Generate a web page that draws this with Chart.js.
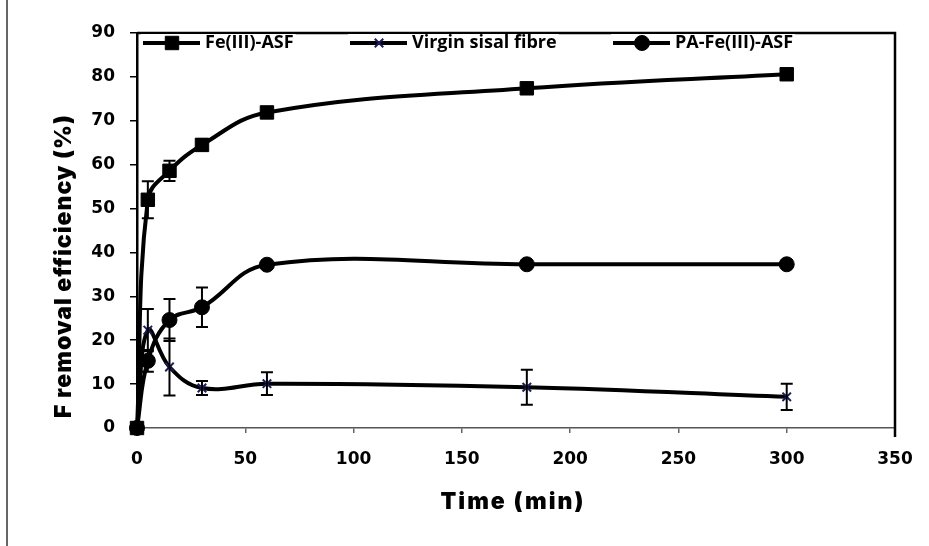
<!DOCTYPE html>
<html>
<head>
<meta charset="utf-8">
<script src="https://cdn.jsdelivr.net/npm/chart.js@4"></script>
<style>
  body { margin: 0; background: #fff; }
  #wrap { width: 929px; height: 546px; }
</style>
</head>
<body>
<div id="wrap"><canvas id="myChart" width="929" height="546"></canvas></div>
<script>
// data
const times = [0, 5, 15, 30, 60, 180, 300];
const feAsf = [0, 52, 58.6, 64.5, 71.9, 77.4, 80.6];
const feAsfErr = [0, 4.2, 2.3, 1.3, 1.2, 1, 1];
const virgin = [0, 22.3, 13.9, 9.1, 10.1, 9.3, 7.1];
const virginErr = [0, 4.8, 6.5, 1.6, 2.6, 4, 3];
const paFeAsf = [0, 15.3, 24.6, 27.5, 37.2, 37.3, 37.3];
const paFeAsfErr = [0, 2.5, 4.8, 4.5, 0.8, 0.8, 0.8];
const xTicks = [0, 50, 100, 150, 200, 250, 300, 350];
const yTicks = [0, 10, 20, 30, 40, 50, 60, 70, 80, 90];
const seriesNames = ["Fe(III)-ASF", "Virgin sisal fibre", "PA-Fe(III)-ASF"];
const xTitle = "Time (min)";
const yTitle = "F removal efficiency (%)";

const toPts = (arr) => times.map((t, i) => ({ x: t, y: arr[i] }));

// error bars, legend, frame and axis titles
const extras = {
  id: "extras",
  afterDatasetsDraw(chart) {
    const { ctx, chartArea: a, scales: { x, y } } = chart;
    ctx.save();
    // error bars
    ctx.strokeStyle = "#000";
    ctx.lineWidth = 2;
    chart.data.datasets.forEach((ds) => {
      ds.errors.forEach((e, i) => {
        if (!e) return;
        const px = x.getPixelForValue(times[i]);
        const top = y.getPixelForValue(ds.data[i].y + e);
        const bot = y.getPixelForValue(ds.data[i].y - e);
        ctx.beginPath();
        ctx.moveTo(px, top); ctx.lineTo(px, bot);
        ctx.moveTo(px - 6, top); ctx.lineTo(px + 6, top);
        ctx.moveTo(px - 6, bot); ctx.lineTo(px + 6, bot);
        ctx.stroke();
      });
    });
    // top and right frame
    ctx.lineWidth = 2.5;
    ctx.beginPath();
    ctx.moveTo(a.left, a.top);
    ctx.lineTo(a.right, a.top);
    ctx.lineTo(a.right, a.bottom + 9);
    ctx.stroke();
    // scan edge on the left
    ctx.lineWidth = 1.5;
    ctx.strokeStyle = "#333";
    ctx.beginPath();
    ctx.moveTo(7, 0); ctx.lineTo(7, 546);
    ctx.stroke();

    // legend
    const starts = [143, 350, 613];
    const ly = a.top + 10;
    ctx.font = 'bold 18px "Open Sans"';
    ctx.textBaseline = "middle";
    chart.data.datasets.forEach((ds, i) => {
      const x0 = starts[i];
      ctx.fillStyle = "#fff";
      ctx.fillRect(x0 - 2, ly - 9, 60 + ctx.measureText(ds.label).width + 6, 18);
      ctx.strokeStyle = "#000";
      ctx.lineWidth = 4;
      ctx.beginPath();
      ctx.moveTo(x0, ly); ctx.lineTo(x0 + 57, ly);
      ctx.stroke();
      ctx.fillStyle = ds.backgroundColor;
      ctx.strokeStyle = ds.pointBorderColor || "#000";
      ctx.lineWidth = ds.pointBorderWidth;
      Chart.helpers.drawPoint(ctx, {
        pointStyle: ds.pointStyle,
        radius: ds.pointRadius,
        borderWidth: ds.pointBorderWidth
      }, x0 + 29, ly);
      ctx.fillStyle = "#000";
      ctx.fillText(ds.label, x0 + 62, ly);
    });

    // axis titles (heavy face)
    ctx.fillStyle = "#000";
    ctx.textAlign = "center";
    ctx.textBaseline = "middle";
    ctx.font = '900 23px "Inter"';
    ctx.letterSpacing = "2px";
    ctx.fillText(xTitle, (a.left + a.right) / 2 - 3, 502);
    ctx.letterSpacing = "1px";
    ctx.translate(64, 266);
    ctx.rotate(-Math.PI / 2);
    ctx.fillText(yTitle, 0, 0);
    ctx.restore();
  }
};

const ctx = document.getElementById("myChart").getContext("2d");

window.myChart = new Chart(ctx, {
  type: "line",
  data: {
    datasets: [
      {
        label: seriesNames[0],
        data: toPts(feAsf),
        errors: feAsfErr,
        borderColor: "#000",
        backgroundColor: "#000",
        pointBorderColor: "#000",
        borderWidth: 4,
        pointStyle: "rect",
        pointRadius: 9.5,
        pointBorderWidth: 1,
        tension: 0.4,
        clip: false
      },
      {
        label: seriesNames[1],
        data: toPts(virgin),
        errors: virginErr,
        borderColor: "#000",
        backgroundColor: "#1c1c5c",
        pointBorderColor: "#1c1c5c",
        borderWidth: 4,
        pointStyle: "crossRot",
        pointRadius: 6,
        pointBorderWidth: 2,
        tension: 0.4,
        clip: false
      },
      {
        label: seriesNames[2],
        data: toPts(paFeAsf),
        errors: paFeAsfErr,
        borderColor: "#000",
        backgroundColor: "#000",
        pointBorderColor: "#000",
        borderWidth: 4,
        pointStyle: "circle",
        pointRadius: 7.5,
        pointBorderWidth: 1,
        tension: 0.4,
        clip: false
      }
    ]
  },
  options: {
    responsive: false,
    animation: false,
    layout: { padding: { top: 33, right: 34, bottom: 0, left: 0 } },
    plugins: {
      legend: { display: false },
      tooltip: { enabled: false }
    },
    scales: {
      x: {
        type: "linear",
        min: 0,
        max: 350,
        afterBuildTicks: (s) => { s.ticks = xTicks.map((v) => ({ value: v })); },
        afterFit: (s) => { s.height = 118; },
        border: { color: "#555", width: 1.5, dash: [14, 3] },
        grid: { drawOnChartArea: false, tickLength: 5, color: "#666", lineWidth: 1.5 },
        ticks: {
          color: "#000",
          padding: 16,
          maxRotation: 0,
          font: { family: "DejaVu Sans", size: 17, weight: "bold" }
        }
      },
      y: {
        min: 0,
        max: 90,
        afterBuildTicks: (s) => { s.ticks = yTicks.map((v) => ({ value: v })); },
        afterFit: (s) => { s.width = 137; },
        border: { color: "#000", width: 2.5 },
        grid: { drawOnChartArea: false, tickLength: 7, color: "#000", lineWidth: 1.5 },
        ticks: {
          color: "#000",
          padding: 15,
          font: { family: "DejaVu Sans", size: 17, weight: "bold" }
        }
      }
    }
  },
  plugins: [extras]
});
</script>
</body>
</html>
